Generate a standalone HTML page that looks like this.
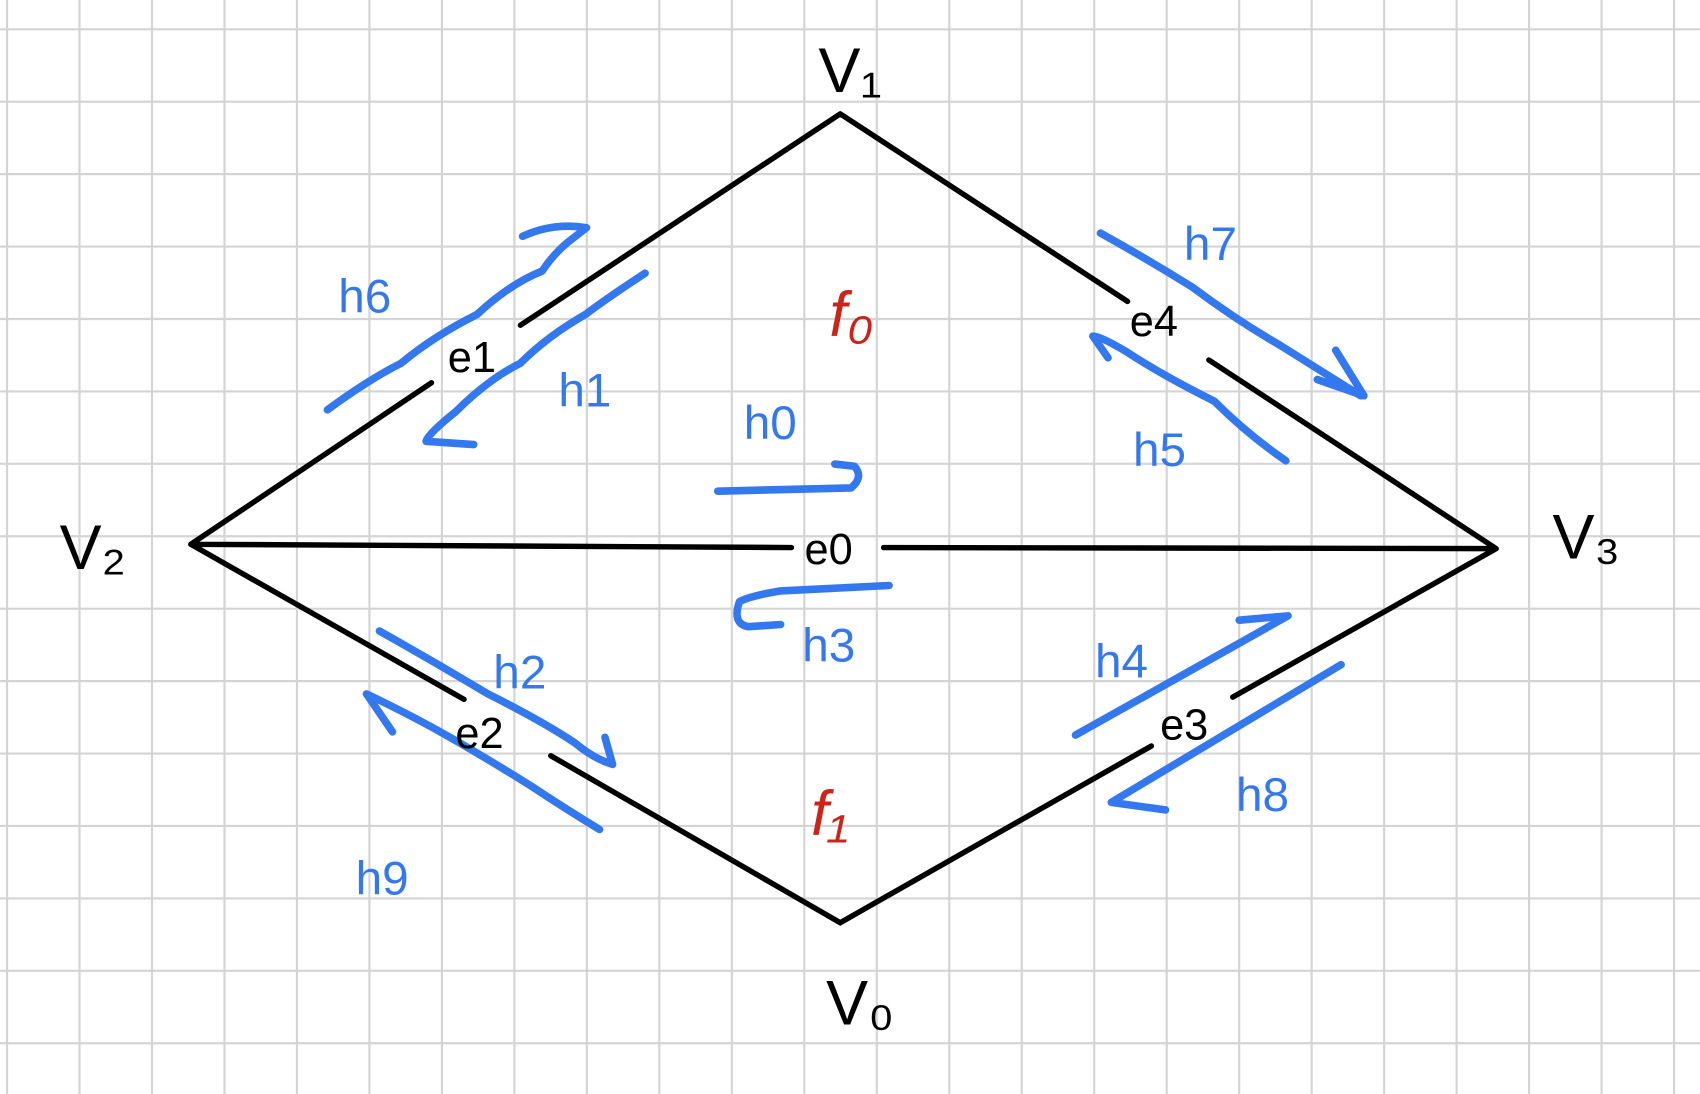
<!DOCTYPE html>
<html><head><meta charset="utf-8"><style>
html,body{margin:0;padding:0;background:#fff;width:1700px;height:1094px;overflow:hidden}
svg{display:block}
.b{stroke:#000;stroke-width:5;fill:none;stroke-linecap:round}
.h{stroke:#3478f0;stroke-width:7;fill:none;stroke-linecap:round;stroke-linejoin:round}
text{font-family:"Liberation Sans",sans-serif}
.lb{fill:#3478f0;font-size:44px}
.lk{fill:#000;font-size:40px}
.lv{fill:#000;font-size:58px}
.lr{fill:#cc2418;font-size:58px;font-style:italic}
</style></head><body>
<svg width="1700" height="1094" viewBox="0 0 1568 1009" preserveAspectRatio="none">
<g id="grid" stroke="#d4d4d4" stroke-width="2"></g>
<g>
<path class="b" d="M775 105 L480 300 M398 353 L176 502 M176 502 L730 505 M815 505 L1380 506 M775 105 L1040 278 M1115 332 L1380 506 M176 502 L428 645 M508 697 L775 851 L1062 688 M1137 643 L1380 506"/>
</g>
<g>
<path class="h" d="M302 378 Q340 350 370 335 Q400 310 440 290 Q470 262 500 250 Q510 235 523 224 L541 210 Q510 205 482 218"/>
<path class="h" d="M595 252 Q560 275 540 290 Q505 310 480 335 Q450 350 420 380 Q395 400 393 407 L437 410"/>
<path class="h" d="M1015 215 Q1060 240 1100 265 Q1140 295 1180 318 Q1215 340 1255 365 M1232 323 L1258 365 L1215 350"/>
<path class="h" d="M1186 425 Q1150 400 1120 370 Q1070 345 1040 325 Q1015 310 1008 310 L1022 330"/>
<path class="h" d="M662 453 L785 450 Q797 440 788 430 L770 428"/>
<path class="h" d="M820 540 L720 545 Q690 550 682 555 Q675 575 690 578 L720 576"/>
<path class="h" d="M350 582 Q400 610 450 640 Q500 665 530 685 Q548 700 565 705 L558 680"/>
<path class="h" d="M553 765 Q520 745 490 725 Q450 700 415 680 Q380 660 338 640 L362 675"/>
<path class="h" d="M992 678 L1188 568 L1143 572"/>
<path class="h" d="M1237 613 L1025 740 L1075 747"/>
</g>
<g>
<text class="lv" x="755" y="85">V₁</text>
<text class="lv" x="55" y="525">V₂</text>
<text class="lv" x="1432" y="515">V₃</text>
<text class="lv" x="762" y="945">V₀</text>
<text class="lr" x="765" y="310">f₀</text>
<text class="lr" x="748" y="770">f₁</text>
<text class="lk" x="742" y="520">e0</text>
<text class="lk" x="413" y="343">e1</text>
<text class="lk" x="420" y="690">e2</text>
<text class="lk" x="1070" y="682">e3</text>
<text class="lk" x="1042" y="310">e4</text>
<text class="lb" x="686" y="405">h0</text>
<text class="lb" x="515" y="375">h1</text>
<text class="lb" x="455" y="635">h2</text>
<text class="lb" x="740" y="610">h3</text>
<text class="lb" x="1010" y="625">h4</text>
<text class="lb" x="1045" y="430">h5</text>
<text class="lb" x="312" y="288">h6</text>
<text class="lb" x="1092" y="240">h7</text>
<text class="lb" x="1140" y="748">h8</text>
<text class="lb" x="328" y="825">h9</text>
</g>
<script>
var g=document.getElementById('grid');
var ns='http://www.w3.org/2000/svg';
for(var i=0;i<=24;i++){var x=6.5+66.85*i;var l=document.createElementNS(ns,'line');
l.setAttribute('x1',x);l.setAttribute('x2',x);l.setAttribute('y1',0);l.setAttribute('y2',1009);


g.appendChild(l);}
for(var j=-1;j<=15;j++){var y=27+66.8*j;var m=document.createElementNS(ns,'line');
m.setAttribute('y1',y);m.setAttribute('y2',y);m.setAttribute('x1',0);m.setAttribute('x2',1568);


g.appendChild(m);}
</script>
</svg>
</body></html>
